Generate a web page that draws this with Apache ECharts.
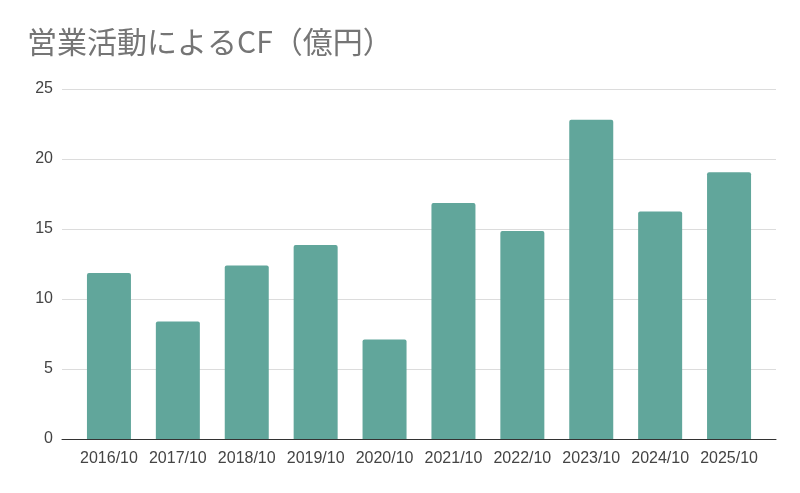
<!DOCTYPE html>
<html>
<head>
<meta charset="utf-8">
<script src="https://cdn.jsdelivr.net/npm/echarts@6/dist/echarts.min.js"></script>
<style>
html,body{margin:0;padding:0;background:#fff;}
#chart{width:800px;height:493px;}
</style>
</head>
<body>
<div id="chart"></div>
<script>
const titleText = "営業活動によるCF（億円）";
const categories = ["2016/10","2017/10","2018/10","2019/10","2020/10","2021/10","2022/10","2023/10","2024/10","2025/10"];
const values = [11.85, 8.4, 12.4, 13.85, 7.1, 16.85, 14.85, 22.8, 16.25, 19.05];
const yTicks = [0, 5, 10, 15, 20, 25];

const chart = echarts.init(document.getElementById('chart'));
const font = 'Arial, "Liberation Sans", sans-serif';
chart.setOption({
  animation: false,
  backgroundColor: '#ffffff',
  title: {
    text: titleText,
    left: 22, top: 22,
    textStyle: { fontFamily: '"Noto Sans CJK JP", sans-serif', fontSize: 30, fontWeight: 'normal', color: '#757575' }
  },
  grid: [
    { left: 62, right: 24, top: 89, bottom: 54 },
    { left: 74.5, right: 36.5, top: 89, bottom: 54 }
  ],
  xAxis: [
    { gridIndex: 0, type: 'category', data: categories, axisLine: { show: true, lineStyle: { color: '#333333', width: 1 } }, axisTick: { show: false }, axisLabel: { show: false } },
    { gridIndex: 1, type: 'category', data: categories, axisLine: { show: false }, axisTick: { show: false },
      axisLabel: { color: '#444444', fontSize: 16, fontFamily: font, margin: 12, interval: 0, hideOverlap: false } }
  ],
  yAxis: [
    { gridIndex: 0, type: 'value', min: yTicks[0], max: yTicks[yTicks.length-1], interval: 5,
      axisLine: { show: false }, axisTick: { show: false },
      axisLabel: { color: '#444444', fontSize: 16, fontFamily: font, margin: 9 },
      splitLine: { lineStyle: { color: '#dcdcdc', width: 1 } } },
    { gridIndex: 1, type: 'value', min: yTicks[0], max: yTicks[yTicks.length-1], interval: 5, show: false, splitLine: { show: false } }
  ],
  series: [{
    type: 'bar', xAxisIndex: 1, yAxisIndex: 1, data: values, barWidth: 44,
    itemStyle: { color: '#61a69b', borderRadius: [2, 2, 0, 0] }
  }]
});
</script>
</body>
</html>
